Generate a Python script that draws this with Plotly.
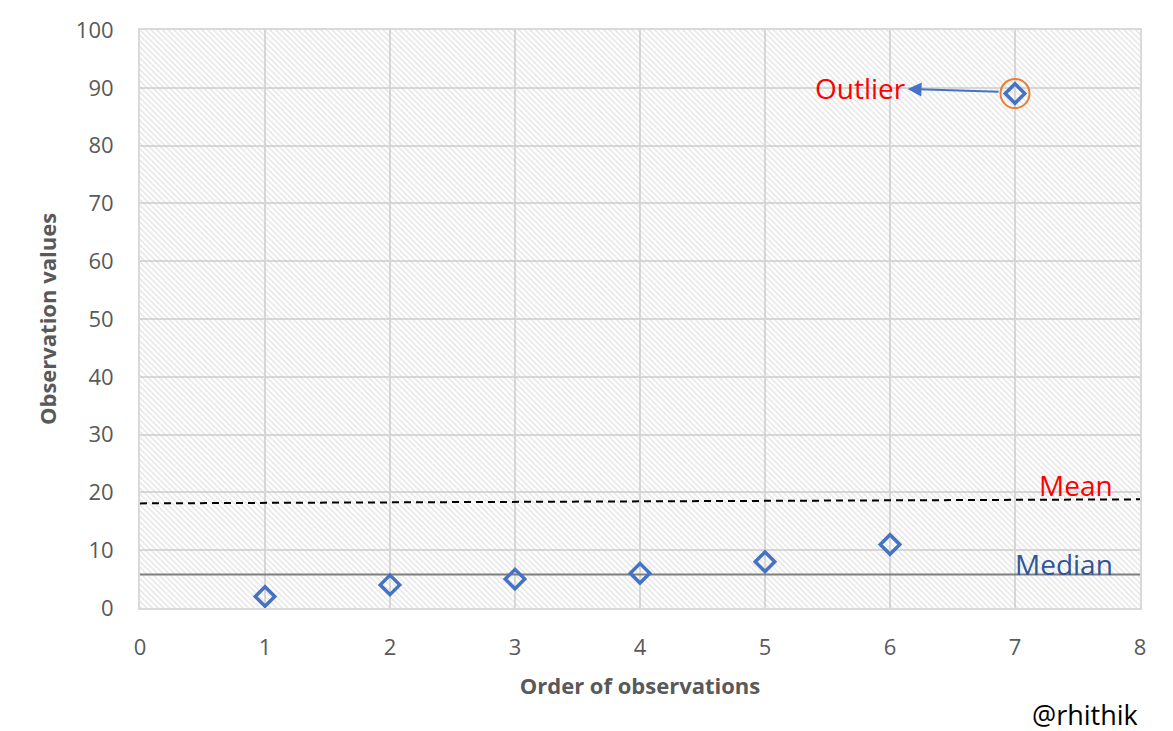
import plotly.graph_objects as go

order = [1, 2, 3, 4, 5, 6, 7]
values = [2, 4, 5, 6, 8, 11, 89]
mean_line_x = [0, 8]
mean_line_y = [18.1, 18.8]
median_line_x = [0, 8]
median_line_y = [5.8, 5.8]
x_range = [0, 8]
y_range = [0, 100]
x_ticks = [0, 1, 2, 3, 4, 5, 6, 7, 8]
y_ticks = [0, 10, 20, 30, 40, 50, 60, 70, 80, 90, 100]

FONT = "Open Sans"
fig = go.Figure()

# hatched plot background
fig.add_trace(go.Scatter(
    x=[x_range[0], x_range[1], x_range[1], x_range[0], x_range[0]],
    y=[y_range[0], y_range[0], y_range[1], y_range[1], y_range[0]],
    mode="lines", line=dict(width=0), fill="toself", fillcolor="rgba(0,0,0,0)",
    fillpattern=dict(shape="\\", fgcolor="#c8c8c8", bgcolor="rgba(255,255,255,0)",
                     size=4, solidity=0.35),
    hoverinfo="skip", showlegend=False))

fig.add_trace(go.Scatter(x=mean_line_x, y=mean_line_y, mode="lines",
                         line=dict(color="black", width=2, dash="7px,5px"),
                         showlegend=False))
fig.add_trace(go.Scatter(x=median_line_x, y=median_line_y, mode="lines",
                         line=dict(color="#7f7f7f", width=2), showlegend=False))

fig.add_trace(go.Scatter(x=order, y=values, mode="markers",
                         marker=dict(symbol="diamond-open", size=15, color="#4472C4",
                                     line=dict(width=3.5, color="#4472C4")),
                         showlegend=False))

# outlier ring
fig.add_trace(go.Scatter(x=[order[-1]], y=[values[-1]], mode="markers",
                         marker=dict(symbol="circle-open", size=29, color="#ED7D31",
                                     line=dict(width=2, color="#ED7D31")),
                         showlegend=False))

fig.add_annotation(x=6.14, y=89.8, ax=6.88, ay=89.3, xref="x", yref="y",
                   axref="x", ayref="y", text="", showarrow=True,
                   arrowhead=2, arrowsize=1.4, arrowwidth=2, arrowcolor="#4472C4",
                   standoff=0)
fig.add_annotation(x=6.14, y=90.0, xref="x", yref="y", text="Outlier",
                   showarrow=False, xanchor="right",
                   font=dict(family=FONT, size=28, color="#ff0000"))
fig.add_annotation(x=7.8, y=17.7, xref="x", yref="y", text="Mean",
                   showarrow=False, xanchor="right", yanchor="bottom",
                   font=dict(family=FONT, size=28, color="#ff0000"))
fig.add_annotation(x=7.8, y=4.0, xref="x", yref="y", text="Median",
                   showarrow=False, xanchor="right", yanchor="bottom",
                   font=dict(family=FONT, size=28, color="#2f5597"))
fig.add_annotation(x=1.0, y=-0.185, xref="paper", yref="paper", text="@rhithik",
                   showarrow=False, xanchor="right", yanchor="middle",
                   font=dict(family=FONT, size=27, color="black"))

axis_common = dict(showgrid=True, gridcolor="#d9d9d9", gridwidth=2,
                   zeroline=False, showline=True, linecolor="#d9d9d9", linewidth=2,
                   mirror=True, ticks="",
                   tickfont=dict(family=FONT, size=22, color="#595959"))
fig.update_xaxes(range=x_range, tickvals=x_ticks, ticklabelstandoff=19,
                 automargin="bottom", **axis_common,
                 title=dict(text="<b>Order of observations</b>", standoff=18,
                            font=dict(family=FONT, size=22, color="#595959")))
fig.update_yaxes(range=y_range, tickvals=y_ticks, ticklabelstandoff=20,
                 automargin="left", **axis_common,
                 title=dict(text="<b>Observation values</b>", standoff=13,
                            font=dict(family=FONT, size=22, color="#595959")))

fig.update_layout(width=1173, height=731, plot_bgcolor="white", paper_bgcolor="white",
                  margin=dict(l=132, r=41, t=22, b=131), showlegend=False)

fig.write_html("out.html")
